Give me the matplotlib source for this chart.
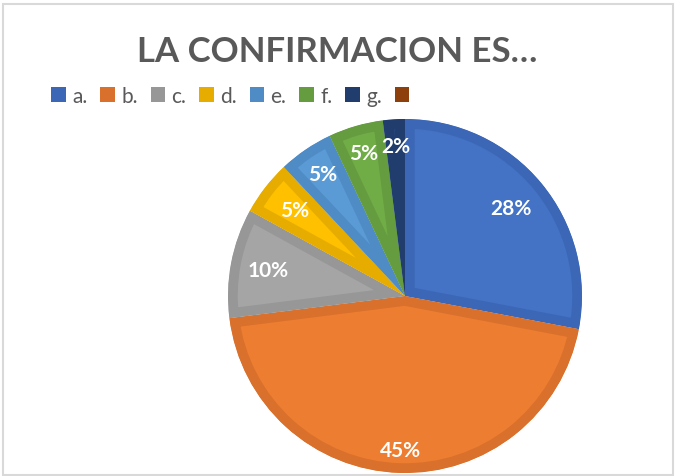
import matplotlib.pyplot as plt
from matplotlib.patches import Patch, Rectangle
import numpy as np

# data
labels = ["a.", "b.", "c.", "d.", "e.", "f.", "g.", ""]
values = [28, 45, 10, 5, 5, 5, 2, 0]
fill_colors = ["#4472C4", "#ED7D31", "#A5A5A5", "#FFC000", "#5B9BD5", "#70AD47", "#264478", "#9E480E"]
edge_colors = ["#3B67B6", "#D9702B", "#979797", "#E6AD00", "#4F8CC6", "#659C3F", "#213D6E", "#8E400C"]
label_r = [0.78, 0.87, 0.79, 0.79, 0.83, 0.84, 0.85]

plt.rcParams['font.family'] = ['Lato', 'DejaVu Sans']

fig = plt.figure(figsize=(6.75, 4.77), dpi=100)

# pie axes: center ~(405, 297) px, radius ~177 px
R = 177
cx, cy = 405, 297
ax = fig.add_axes([(cx - R) / 675, (477 - cy - R) / 477, 2 * R / 675, 2 * R / 477])

shown = [v for v in values if v > 0]
wedges, _ = ax.pie(shown, colors=fill_colors[:len(shown)], startangle=90,
                   counterclock=False, radius=1.0)
# darker inner border on every slice
for w, ec in zip(wedges, edge_colors):
    w.set_edgecolor(ec)
    w.set_linewidth(14)
    w.set_joinstyle('round')
    w.set_clip_on(True)
    w.set_clip_path(w)

for w, v, r in zip(wedges, shown, label_r):
    ang = np.deg2rad((w.theta1 + w.theta2) / 2)
    ax.text(r * np.cos(ang), r * np.sin(ang), f"{v}%", ha='center', va='center',
            color='white', fontsize=15, fontweight='bold')

ax.set_xlim(-1, 1)
ax.set_ylim(-1, 1)
ax.set_aspect('equal')
ax.axis('off')

fig.text(0.5, 1 - 62 / 477, "LA CONFIRMACION ES…", ha='center', va='baseline',
         fontsize=25, fontweight='bold', color='#595959')

handles = [Patch(facecolor=c, edgecolor='none') for c in edge_colors]
fig.legend(handles, labels, ncol=8, frameon=False, loc='center left',
           bbox_to_anchor=(43 / 675, 1 - 97 / 477), fontsize=15,
           handlelength=0.7, handleheight=0.7, handletextpad=0.3,
           columnspacing=0.62, labelcolor='#595959', borderaxespad=0)

fig.patches.append(Rectangle((2.5 / 675, 1.5 / 477), 670.5 / 675, 471 / 477,
                             transform=fig.transFigure, fill=False,
                             edgecolor='#D9D9D9', linewidth=1.5))

fig.savefig("out.png", dpi=100)
